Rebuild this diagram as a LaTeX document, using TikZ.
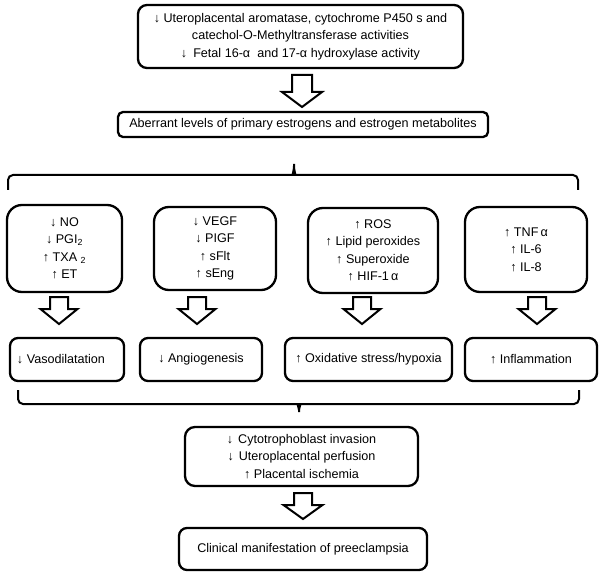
\documentclass[tikz,border=0pt]{standalone}
\usepackage{fontspec}
\setmainfont{Liberation Sans}
\begin{document}
\begin{tikzpicture}[x=1pt,y=-1pt,
  box/.style={draw,line width=2.3pt,rounded corners=#1,inner sep=0pt,align=center,
    font=\fontsize{12.6}{17.5}\selectfont},
  box/.default=8pt,
  brace/.style={draw,line width=2pt,rounded corners=5pt},
  harrowline/.style={draw,line width=2pt,line join=miter,fill=white}]
\useasboundingbox (0,0) rectangle (602,577);
\newcommand\hollowarrow[6]{%
  \draw[harrowline] (#1-#5,#2) -- (#1+#5,#2) -- (#1+#5,#2+#3-#4) -- (#1+#6,#2+#3-#4)
    -- (#1,#2+#3) -- (#1-#6,#2+#3-#4) -- (#1-#5,#2+#3-#4) -- cycle;}
% top box
\node[box=9pt,minimum width=325pt,minimum height=63pt] (top) at (300.5,36.5)
  {↓ Uteroplacental aromatase, cytochrome P450 s and\\
   catechol-O-Methyltransferase activities\\
   ↓\hspace{6pt}Fetal 16-α\ \ and 17-α hydroxylase activity};
\hollowarrow{302}{75}{32}{15}{10}{20}
\node[box=5pt,minimum width=370pt,minimum height=25pt] (aber) at (303,124.5)
  {Aberrant levels of primary estrogens and estrogen metabolites};
% top brace
\coordinate (tbl) at (8,190);
\coordinate (tbr) at (578,190);
\coordinate (tbt) at (294,161);
\draw[brace] (tbl) -- (8,175) -- (288,175)
  .. controls (292,175) and (294,171) .. (tbt)
  .. controls (294,171) and (296,175) .. (300,175) -- (578,175) -- (tbr);
% row 1
\node[box=15pt,minimum width=115pt,minimum height=87pt] (ra) at (64.5,248.5)
  {↓ NO\\ ↓ PGI\textsubscript{2}\\ ↑ TXA \textsubscript{2}\\ ↑ ET};
\node[box=15pt,minimum width=122pt,minimum height=83pt] (rb) at (215,248.5)
  {↓ VEGF\\ ↓ PIGF\\ ↑ sFlt\\ ↑ sEng};
\node[box=15pt,minimum width=130pt,minimum height=85pt] (rc) at (373,250.5)
  {↑ ROS\\ ↑ Lipid peroxides\\ ↑ Superoxide\\ ↑ HIF-1\,α};
\node[box=15pt,minimum width=122pt,minimum height=85pt] (rd) at (526,249.5)
  {↑ TNF\,α\\ ↑ IL-6\\ ↑ IL-8};
\hollowarrow{59}{297}{27}{15}{9}{18.5}
\hollowarrow{197}{297}{27}{15}{9}{18.5}
\hollowarrow{362}{297}{27}{15}{9}{18.5}
\hollowarrow{537}{297}{27}{15}{9}{18.5}
% row 2
\node[box=8pt,minimum width=114pt,minimum height=43pt] (sa) at (67,359.5) {\hspace*{-12pt}↓ Vasodilatation};
\node[box=8pt,minimum width=122pt,minimum height=43pt] (sb) at (201,359.5) {↓ Angiogenesis};
\node[box=8pt,minimum width=167pt,minimum height=43pt] (sc) at (368.5,359.5) {↑ Oxidative stress/hypoxia};
\node[box=8pt,minimum width=132pt,minimum height=43pt] (sd) at (531,359.5) {↑ Inflammation};
% bottom brace
\coordinate (bbl) at (18,390);
\coordinate (bbr) at (579,390);
\coordinate (bbt) at (299,415);
\draw[brace] (bbl) -- (18,404) -- (293,404)
  .. controls (297,404) and (299,408) .. (bbt)
  .. controls (299,408) and (301,404) .. (305,404) -- (579,404) -- (bbr);
\node[box=10pt,minimum width=233pt,minimum height=59pt] (cyto) at (301.5,456.5)
  {↓\hspace{5pt}Cytotrophoblast invasion\\ ↓\hspace{5pt}Uteroplacental perfusion\\ ↑ Placental ischemia};
\hollowarrow{303}{493}{26}{14}{9}{19.5}
\node[box=8pt,minimum width=248pt,minimum height=42pt] (final) at (303,549)
  {Clinical manifestation of preeclampsia};
\end{tikzpicture}
\end{document}
